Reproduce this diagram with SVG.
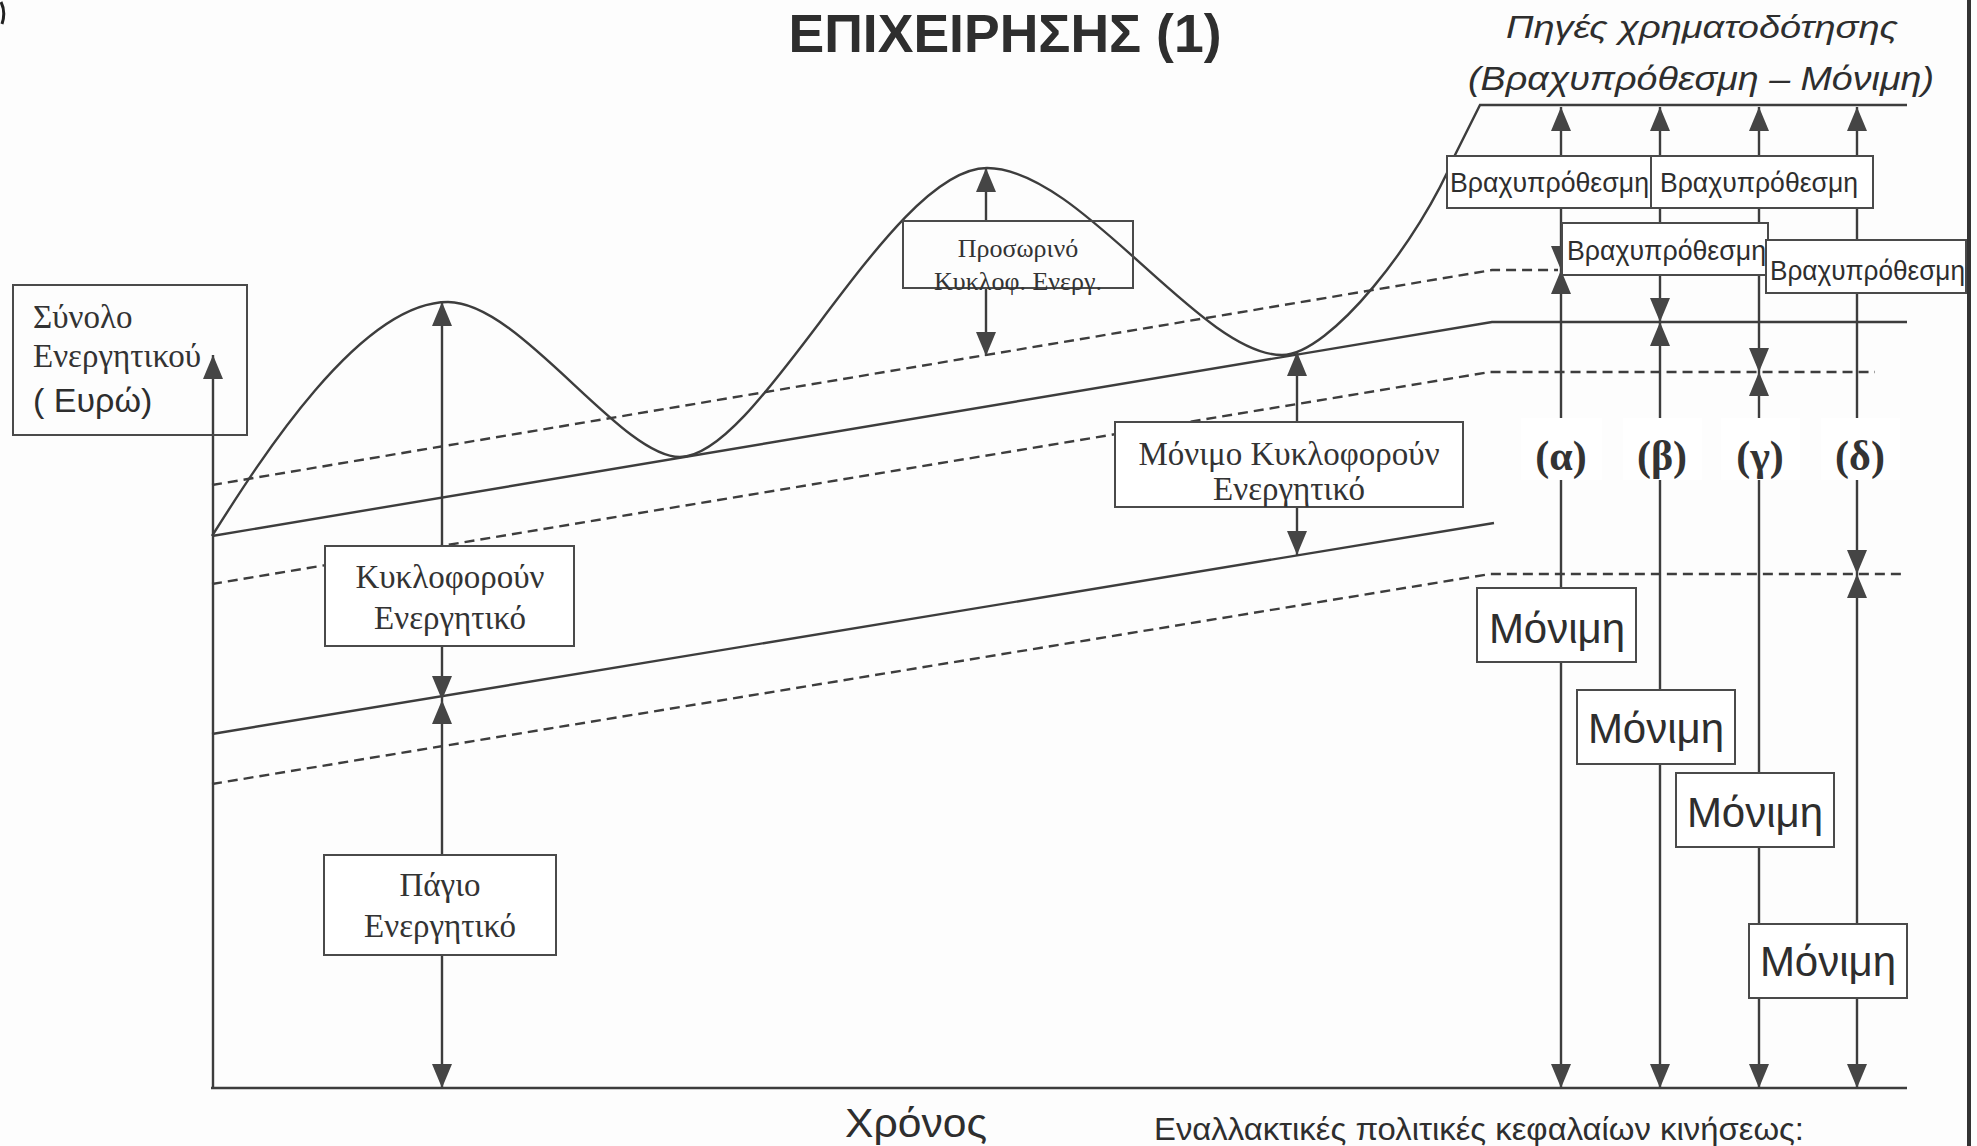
<svg xmlns="http://www.w3.org/2000/svg" width="1977" height="1146" viewBox="0 0 1977 1146">
<style>
.ln{fill:none;stroke:#3d3d3d;stroke-width:2.4}
.ds{fill:none;stroke:#3d3d3d;stroke-width:2.4;stroke-dasharray:10 6}
.ar{fill:none;stroke:#3d3d3d;stroke-width:2.4;marker-end:url(#ah)}
.ar2{fill:none;stroke:#3d3d3d;stroke-width:2.4;marker-start:url(#ah);marker-end:url(#ah)}
.bx{fill:#fff;stroke:#4a4a4a;stroke-width:2}
.bo{fill:none;stroke:#4a4a4a;stroke-width:2}
.sf{font-family:"Liberation Serif","Times New Roman",serif;fill:#333}
.ss{font-family:"Liberation Sans",Arial,sans-serif;fill:#2e2e2e}
.lb{font-family:"Liberation Serif","Times New Roman",serif;font-weight:bold;font-size:42px;fill:#333;text-anchor:middle}
</style>
<defs>
<marker id="ah" viewBox="0 0 24 20" refX="24" refY="10" markerWidth="24" markerHeight="20" markerUnits="userSpaceOnUse" orient="auto-start-reverse">
<path d="M0,0 L24,10 L0,20 z" fill="#454545"/>
</marker>
</defs>
<rect x="0" y="0" width="1977" height="1146" fill="#fdfdfd"/>
<path d="M1,2 Q6,12 2,24" fill="none" stroke="#222" stroke-width="3"/>
<line x1="1969" y1="0" x2="1969" y2="1146" stroke="#333" stroke-width="4"/>

<g id="titles">
<text x="1005" y="52" class="ss" font-size="54" font-weight="bold" text-anchor="middle" fill="#3a3a3a" textLength="433" lengthAdjust="spacingAndGlyphs">ΕΠΙΧΕΙΡΗΣΗΣ (1)</text>
<text x="1702" y="38" class="ss" font-size="32" font-style="italic" text-anchor="middle" textLength="392" lengthAdjust="spacingAndGlyphs">Πηγές χρηματοδότησης</text>
<text x="1701" y="90" class="ss" font-size="34" font-style="italic" text-anchor="middle" textLength="466" lengthAdjust="spacingAndGlyphs">(Βραχυπρόθεσμη – Μόνιμη)</text>
<text x="916" y="1137" class="ss" font-size="40" text-anchor="middle" textLength="142" lengthAdjust="spacingAndGlyphs">Χρόνος</text>
<text x="1154" y="1140" class="ss" font-size="31" textLength="650" lengthAdjust="spacingAndGlyphs">Εναλλακτικές πολιτικές κεφαλαίων κινήσεως:</text>
</g>

<g id="connectors">
<!-- axes -->
<line x1="213" y1="1088" x2="213" y2="355" class="ar"/>
<line x1="211" y1="1088" x2="1907" y2="1088" class="ln"/>
<!-- sloped levels -->
<path d="M212,485 L1492,270 L1558,270" class="ds"/>
<path d="M212,536 L1492,322 L1907,322" class="ln"/>
<path d="M212,584 L1490,372 L1875,372" class="ds"/>
<path d="M212,734 L1494,523" class="ln"/>
<path d="M212,784 L1490,574 L1905,574" class="ds"/>
<!-- total assets wave -->
<path d="M212,536 C260,460 360,302 448,302 C520,302 620,457 680,457 C760,457 890,168 987,168 C1080,168 1200,355 1282,355 C1330,355 1420,240 1455,155 L1480,105 L1907,105" class="ln"/>
<!-- left arrows -->
<line x1="442" y1="302" x2="442" y2="700" class="ar2"/>
<line x1="442" y1="700" x2="442" y2="1088" class="ar2"/>
<line x1="986" y1="221" x2="986" y2="168" class="ar"/>
<line x1="986" y1="288" x2="986" y2="356" class="ar"/>
<line x1="1297" y1="352" x2="1297" y2="555" class="ar2"/>
<!-- financing policies -->
<line x1="1561" y1="107" x2="1561" y2="270" class="ar2"/>
<line x1="1561" y1="270" x2="1561" y2="1088" class="ar2"/>
<line x1="1660" y1="107" x2="1660" y2="322" class="ar2"/>
<line x1="1660" y1="322" x2="1660" y2="1088" class="ar2"/>
<line x1="1759" y1="107" x2="1759" y2="372" class="ar2"/>
<line x1="1759" y1="372" x2="1759" y2="1088" class="ar2"/>
<line x1="1857" y1="107" x2="1857" y2="574" class="ar2"/>
<line x1="1857" y1="574" x2="1857" y2="1088" class="ar2"/>
</g>

<g id="node-total">
<rect x="13" y="285" width="234" height="150" class="bo"/>
<text x="33" y="328" class="sf" font-size="33">Σύνολο</text>
<text x="33" y="367" class="sf" font-size="33">Ενεργητικού</text>
<text x="33" y="412" class="ss" font-size="34">( Ευρώ)</text>
</g>
<g id="node-temp">
<rect x="903" y="221" width="230" height="67" class="bo"/>
<text x="1018" y="257" class="sf" font-size="26" text-anchor="middle" fill="#444">Προσωρινό</text>
<text x="1018" y="290" class="sf" font-size="26" text-anchor="middle" fill="#444">Κυκλοφ. Ενεργ.</text>
</g>
<g id="node-current">
<rect x="325" y="546" width="249" height="100" class="bx"/>
<text x="450" y="588" class="sf" font-size="33" text-anchor="middle">Κυκλοφορούν</text>
<text x="450" y="629" class="sf" font-size="33" text-anchor="middle">Ενεργητικό</text>
</g>
<g id="node-fixed">
<rect x="324" y="855" width="232" height="100" class="bx"/>
<text x="440" y="896" class="sf" font-size="33" text-anchor="middle">Πάγιο</text>
<text x="440" y="937" class="sf" font-size="33" text-anchor="middle">Ενεργητικό</text>
</g>
<g id="node-permcurrent">
<rect x="1115" y="422" width="348" height="85" class="bx"/>
<text x="1289" y="465" class="sf" font-size="33" text-anchor="middle">Μόνιμο Κυκλοφορούν</text>
<text x="1289" y="500" class="sf" font-size="33" text-anchor="middle">Ενεργητικό</text>
</g>

<g id="node-short-a">
<rect x="1447" y="156" width="204" height="52" class="bx"/>
<text x="1450" y="192" class="ss" font-size="28" textLength="199" lengthAdjust="spacingAndGlyphs">Βραχυπρόθεσμη</text>
</g>
<g id="node-short-b">
<rect x="1651" y="156" width="222" height="52" class="bx"/>
<text x="1660" y="192" class="ss" font-size="28" textLength="198" lengthAdjust="spacingAndGlyphs">Βραχυπρόθεσμη</text>
</g>
<g id="node-short-c">
<rect x="1562" y="223" width="206" height="52" class="bx"/>
<text x="1567" y="260" class="ss" font-size="28" textLength="199" lengthAdjust="spacingAndGlyphs">Βραχυπρόθεσμη</text>
</g>
<g id="node-short-d">
<rect x="1766" y="240" width="200" height="53" class="bx"/>
<text x="1770" y="280" class="ss" font-size="28" textLength="195" lengthAdjust="spacingAndGlyphs">Βραχυπρόθεσμη</text>
</g>

<g id="node-perm-a">
<rect x="1477" y="588" width="159" height="74" class="bx"/>
<text x="1557" y="643" class="ss" font-size="42" text-anchor="middle">Μόνιμη</text>
</g>
<g id="node-perm-b">
<rect x="1577" y="690" width="158" height="74" class="bx"/>
<text x="1656" y="743" class="ss" font-size="42" text-anchor="middle">Μόνιμη</text>
</g>
<g id="node-perm-c">
<rect x="1676" y="773" width="158" height="74" class="bx"/>
<text x="1755" y="827" class="ss" font-size="42" text-anchor="middle">Μόνιμη</text>
</g>
<g id="node-perm-d">
<rect x="1749" y="924" width="158" height="74" class="bx"/>
<text x="1828" y="976" class="ss" font-size="42" text-anchor="middle">Μόνιμη</text>
</g>

<g id="policy-labels">
<rect x="1521" y="418" width="81" height="62" fill="#fff"/>
<text x="1561" y="470" class="lb">(α)</text>
<rect x="1623" y="418" width="79" height="62" fill="#fff"/>
<text x="1662" y="470" class="lb">(β)</text>
<rect x="1721" y="418" width="79" height="62" fill="#fff"/>
<text x="1760" y="470" class="lb">(γ)</text>
<rect x="1821" y="418" width="79" height="62" fill="#fff"/>
<text x="1860" y="470" class="lb">(δ)</text>
</g>
</svg>
